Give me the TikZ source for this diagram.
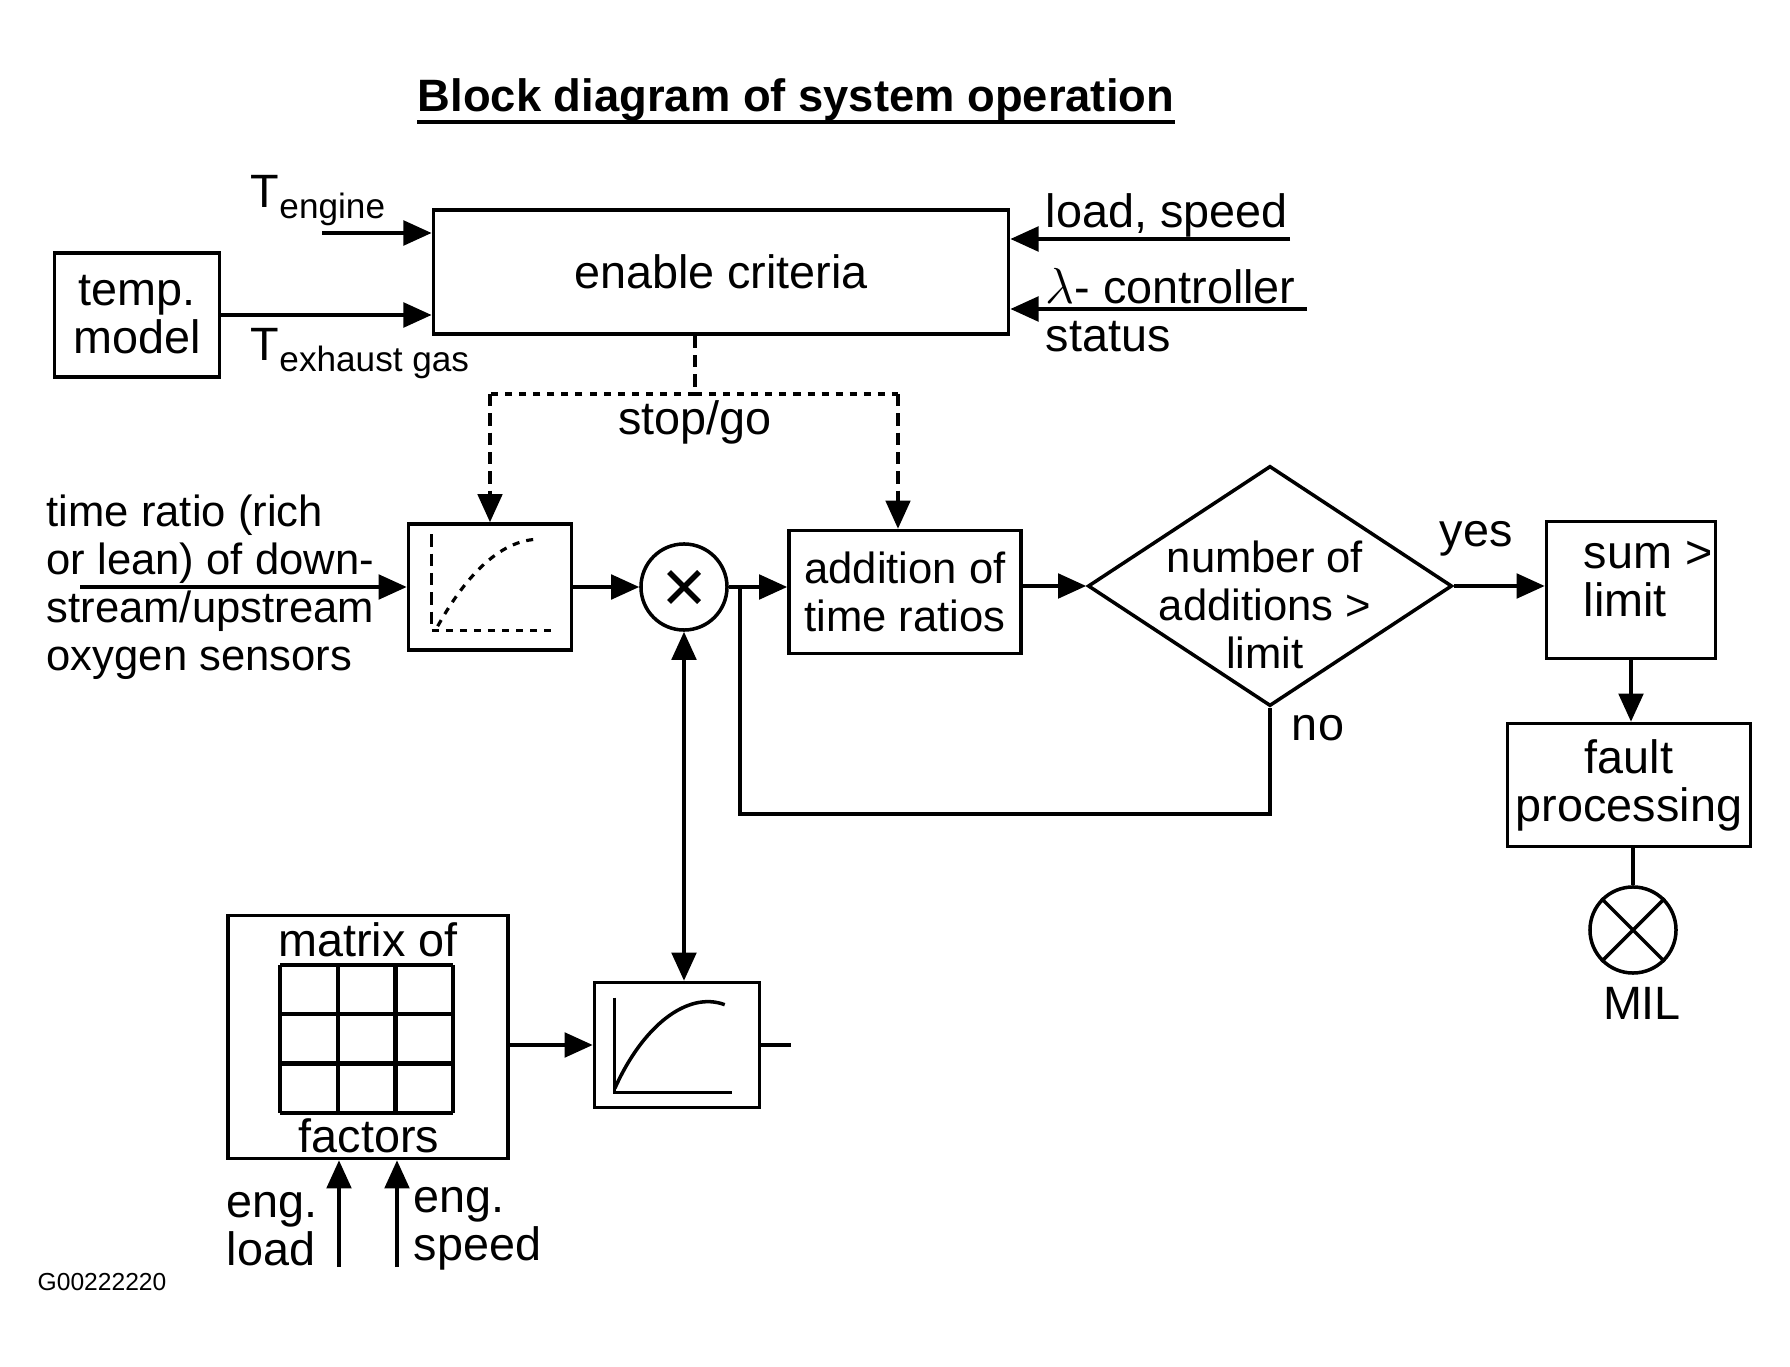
\documentclass[tikz,border=0pt]{standalone}
\usepackage{fontspec}
\setmainfont{Liberation Sans}
\usetikzlibrary{arrows.meta,shapes.geometric}
\newcommand{\bigtxt}{\fontsize{13.3}{13.6}\selectfont}
\newcommand{\smalltxt}{\fontsize{12.4}{13.6}\selectfont}
\newcommand{\Tsub}[1]{{\bigtxt T}\raisebox{-0.45ex}{\fontsize{10}{12}\selectfont #1}}

\begin{document}
\begin{tikzpicture}[
    x=0.01cm, y=-0.01cm,
    block/.style={
      draw,
      line width=1pt,
      inner sep=0pt,
      align=center,
      font=\bigtxt
    },
    txt/.style={
      inner sep=0pt,
      font=\bigtxt
    },
    mixer/.style={
      circle,
      draw,
      line width=1pt,
      minimum size=0.86cm,
      inner sep=0pt
    },
    line/.style={line width=1pt},
    arrow/.style={
      -{Triangle[length=8pt,width=7pt]},
      line width=1pt
    },
    dashline/.style={line width=0.9pt, dash pattern=on 3.5pt off 2pt},
    dotline/.style={line width=0.9pt, dash pattern=on 2pt off 2pt},
    dasharrow/.style={
      -{Triangle[length=8pt,width=7pt]},
      dashline
    }
  ]
  \useasboundingbox (0,0) rectangle (1790,1367);

  \node[txt, font={\fontsize{12.9}{14}\selectfont\bfseries}] (title) at (796,100)
    {Block diagram of system operation};
  \draw[line width=1.1pt] (title.south west) -- (title.south east);

  % upper part
  \node[block, minimum width=1.65cm, minimum height=1.24cm] (temp)   at (137,315) {temp.\\model};
  \node[block, minimum width=5.75cm, minimum height=1.24cm] (enable) at (721,272) {enable criteria};

  \node[txt] (teng) at (318,201) {\Tsub{engine}};
  \node[txt] (texh) at (360,354) {\Tsub{exhaust gas}};
  \node[txt, anchor=base west] (lsp)  at (1045,228) {load, speed};
  \node[txt, anchor=base west] (lam)  at (1045,304) {$\lambda$- controller};
  \node[txt, anchor=base west] (stat) at (1045,352) {status};
  \node[txt] (sgtxt) at (695,422) {stop/go};

  % middle row
  \node[txt, font=\smalltxt, align=left, anchor=west] (tratio) at (46,587)
    {time ratio (rich\\or lean) of down-\\stream/upstream\\oxygen sensors};
  \node[block, minimum width=1.63cm, minimum height=1.26cm] (curveA) at (490,587) {};
  \node[mixer] (mult) at (684,587) {};
  \node[block, font=\smalltxt, minimum width=2.32cm, minimum height=1.23cm] (addit) at (905,592)
    {addition of\\time ratios};
  \node[diamond, draw, line width=1pt, inner sep=0pt,
        minimum width=3.64cm, minimum height=2.40cm] (check) at (1270,586) {};
  \node[txt, font=\smalltxt, align=center] (checktxt) at (1265,605)
    {number of\\additions >\\limit};
  \node[txt] (yes) at (1476,539) {yes};
  \node[txt] (no)  at (1318,728) {no};
  \node[block, minimum width=1.69cm, minimum height=1.37cm] (sum) at (1631,590) {};
  \node[txt, align=left, anchor=west] (sumtxt) at (1583,579) {sum >\\limit};
  \node[block, minimum width=2.43cm, minimum height=1.23cm] (fault) at (1629,785) {fault\\processing};
  \node[mixer] (mil) at (1633,930) {};
  \node[txt] (miltxt) at (1642,1003) {MIL};

  % lower part
  \node[block, minimum width=2.80cm, minimum height=2.43cm] (matrix) at (368,1037) {};
  \node[txt] (mtop) at (368,940) {matrix of};
  \node[txt] (mbot) at (369,1136) {factors};
  \node[block, minimum width=1.65cm, minimum height=1.25cm] (curveB) at (677,1045) {};
  \node[txt, align=left, anchor=west] (eload)  at (226,1229) {eng.\\load};
  \node[txt, align=left, anchor=west] (espeed) at (413,1229) {eng.\\speed};
  \node[txt, font=\fontsize{7}{8}\selectfont, anchor=west] (code) at (37,1282) {G00222220};

  % characteristic curves
  \begin{scope}[shift={(curveA.north west)}]
    \draw[dashline] (25,12) -- (25,108);
    \draw[dotline] (25,108) -- (146,108);
    \draw[dotline] (31,104) .. controls (56,59) and (91,17) .. (133,17);
  \end{scope}
  \begin{scope}[shift={(curveB.north west)}]
    \draw[line] (22,17) -- (22,112) -- (139,112);
    \draw[line] (22,108) .. controls (50,45) and (95,10) .. (132,24);
  \end{scope}

  % matrix grid
  \begin{scope}[shift={(matrix.center)}]
    \foreach \i in {0,...,3} {
      \draw[line width=1.2pt] (-88+\i*57.7,-72) -- (-88+\i*57.7,76);
      \draw[line width=1.2pt] (-88,-72+\i*49.3) -- (85,-72+\i*49.3);
    }
  \end{scope}

  % multiplier and lamp marks
  \draw[line width=1.6pt] ([shift={(-15,-15)}]mult.center) -- ([shift={(15,15)}]mult.center)
                          ([shift={(-15,15)}]mult.center) -- ([shift={(15,-15)}]mult.center);
  \draw[line] (mil.north west) -- (mil.south east) (mil.north east) -- (mil.south west);

  % inputs to enable criteria
  \coordinate (tengin) at (322,233);
  \coordinate (lspin)  at (1290,239);
  \coordinate (lamin)  at (1307,309);
  \draw[arrow] (tengin) -- (tengin -| enable.west);
  \draw[arrow] (temp.east) -- (temp.east -| enable.west);
  \draw[arrow] (lspin) -- (lspin -| enable.east);
  \draw[arrow] (lamin) -- (lamin -| enable.east);

  % stop/go
  \coordinate (sg)  at (695,394);
  \coordinate (sgR) at (898,394);
  \draw[dashline] (enable.south -| sg) -- (sg);
  \draw[dotline] (sg) -- (sg -| curveA.north);
  \draw[dotline] (sg) -- (sgR);
  \draw[dasharrow] (sg -| curveA.north) -- (curveA.north);
  \draw[dasharrow] (sgR) -- (sgR |- addit.north);

  % signal path
  \coordinate (trin) at (80,587);
  \coordinate (jn) at (740,587);
  \coordinate (fb) at (740,814);
  \draw[arrow] (trin) -- (curveA.west);
  \draw[arrow] (curveA.east) -- (mult.west);
  \draw[arrow] (mult.east) -- (mult.east -| addit.west);
  \draw[arrow] (addit.east |- check.west) -- (check.west);
  \draw[arrow] (check.east) -- (check.east -| sum.west);
  \draw[line] (check.south) |- (fb) -- (jn);
  \draw[arrow] (sum.south) -- (sum.south |- fault.north);
  \draw[line] (fault.south -| mil.north) -- (mil.north);

  % factors
  \coordinate (outB) at (791,1045);
  \coordinate (elin) at (339,1267);
  \coordinate (esin) at (397,1267);
  \draw[arrow] (matrix.east |- curveB.west) -- (curveB.west);
  \draw[line] (curveB.east) -- (outB);
  \draw[{Triangle[length=8pt,width=7pt]}-{Triangle[length=8pt,width=7pt]}, line width=1pt]
    (mult.south) -- (mult.south |- curveB.north);
  \draw[arrow] (elin) -- (elin |- matrix.south);
  \draw[arrow] (esin) -- (esin |- matrix.south);

\end{tikzpicture}
\end{document}
